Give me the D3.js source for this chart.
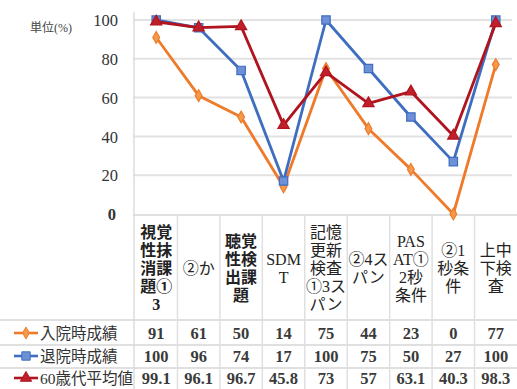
<!DOCTYPE html>
<html><head><meta charset="utf-8">
<script src="https://cdn.jsdelivr.net/npm/d3@7"></script>
<style>
body{margin:0;background:#fff}
.serif{font-family:"Liberation Serif","Times New Roman","DejaVu Serif","Noto Sans CJK JP",serif;}
</style>
</head><body><svg id="c" width="517" height="389"></svg>
<script>
const categories = ["視覚性抹消課題①3","②か","聴覚性検出課題","SDMT","記憶更新検査①3スパン","②4スパン","PASAT①2秒条件","②1秒条件","上中下検査"];
const categoryLines = [["視覚","性抹","消課","題①","3"],["②か"],["聴覚","性検","出課","題"],["SDM","T"],["記憶","更新","検査","①3ス","パン"],["②4ス","パン"],["PAS","AT①","2秒","条件"],["②1","秒条","件"],["上中","下検","査"]];
const seriesNames = ["入院時成績","退院時成績","60歳代平均値"];
const admission = [91,61,50,14,75,44,23,0,77];
const discharge = [100,96,74,17,100,75,50,27,100];
const avg60s = [99.1,96.1,96.7,45.8,73,57,63.1,40.3,98.3];
const yTicks = [0,20,40,60,80,100];
const unitLabel = "単位(%)";

const svg = d3.select("#c");
const x = d3.scaleBand().domain(categories).range([135,517]);
const y = d3.scaleLinear().domain([0,100]).range([214,20]);
const cx = c => x(c) + x.bandwidth()/2;

const series = [
  {name: seriesNames[0], values: admission, color: "#EE7A2A", sym: d3.symbolDiamond, size: 40, fill: "#F39A4C"},
  {name: seriesNames[1], values: discharge, color: "#3F6EC0", sym: d3.symbolSquare, size: 70, fill: "#6E90D6"},
  {name: seriesNames[2], values: avg60s, color: "#B0141E", sym: d3.symbolTriangle, size: 55, fill: "#C0202A"}
];

// gridlines
svg.append("g").selectAll("line").data(yTicks.filter(t=>t>0)).join("line")
  .attr("x1",133).attr("x2",512).attr("y1",d=>y(d)).attr("y2",d=>y(d))
  .attr("stroke","#e2e2e2").attr("stroke-width",2);
svg.append("line").attr("x1",134).attr("x2",134).attr("y1",12).attr("y2",389)
  .attr("stroke","#dcdcdc").attr("stroke-width",1.5);

// y axis labels
const yAxis = d3.axisLeft(y).tickValues(yTicks).tickSize(0).tickPadding(0);
const ga = svg.append("g").attr("transform","translate(118,0)").call(yAxis);
ga.attr("font-family",null);
ga.select(".domain").remove();
ga.selectAll("text").attr("class","serif").attr("font-size",16.5).attr("fill","#333").attr("dy","0.35em");
ga.selectAll(".tick").filter(d=>d===0).select("text").attr("font-weight","bold").attr("x",-2);

svg.append("text").attr("class","serif").attr("x",30).attr("y",32).attr("font-size",12)
  .attr("fill","#444").text(unitLabel);

// table lines
const rowTop = [215,320,345,368];
svg.append("g").selectAll("line").data(rowTop).join("line")
  .attr("x1",d=>d===215?133:0).attr("x2",517).attr("y1",d=>d).attr("y2",d=>d)
  .attr("stroke","#d6d6d6").attr("stroke-width",1.5);
svg.append("g").selectAll("line").data(categories.slice(1)).join("line")
  .attr("x1",d=>x(d)).attr("x2",d=>x(d)).attr("y1",215).attr("y2",389)
  .attr("stroke","#e0e0e0").attr("stroke-width",1.5);

// category header labels
const boldCols = new Set([0,2]);
const lh = 18;
categories.forEach((c,i)=>{
  const lines = categoryLines[i];
  const start = 268 - (lines.length-1)*lh/2;
  const t = svg.append("text").attr("class","serif").attr("text-anchor","middle")
    .attr("font-size",16).attr("fill","#222").attr("font-weight",boldCols.has(i)?"bold":"normal");
  lines.forEach((l,j)=>t.append("tspan").attr("x",cx(c)).attr("y",start+j*lh).attr("dy","0.35em").text(l));
});

// lines and markers
series.forEach(s=>{
  const pts = categories.map((c,i)=>[cx(c), y(s.values[i])]);
  svg.append("path").attr("d",d3.line()(pts)).attr("fill","none")
    .attr("stroke",s.color).attr("stroke-width",2.8).attr("stroke-linejoin","round");
  svg.append("g").selectAll("path").data(pts).join("path")
    .attr("transform",d=>`translate(${d[0]},${d[1]})`)
    .attr("d",d3.symbol().type(s.sym).size(s.size))
    .attr("fill",s.fill).attr("stroke",s.color).attr("stroke-width",1.2);
});

// table rows
const rowCenter = [333,356,378];
series.forEach((s,r)=>{
  const yy = rowCenter[r];
  svg.append("line").attr("x1",14).attr("x2",38).attr("y1",yy).attr("y2",yy)
    .attr("stroke",s.color).attr("stroke-width",2.6);
  svg.append("path").attr("transform",`translate(26,${yy})`)
    .attr("d",d3.symbol().type(s.sym).size(s.size)).attr("fill",s.fill).attr("stroke",s.color);
  svg.append("text").attr("class","serif").attr("x",40).attr("y",yy).attr("dy","0.36em")
    .attr("font-size",15.5).attr("fill","#333").text(s.name);
  svg.append("g").selectAll("text").data(categories).join("text")
    .attr("class","serif").attr("x",d=>cx(d)).attr("y",yy).attr("dy","0.36em").attr("text-anchor","middle")
    .attr("font-size",16.5).attr("font-weight","bold").attr("fill","#3a3a3a")
    .text((d,i)=>String(s.values[i]));
});
</script>
</body></html>
